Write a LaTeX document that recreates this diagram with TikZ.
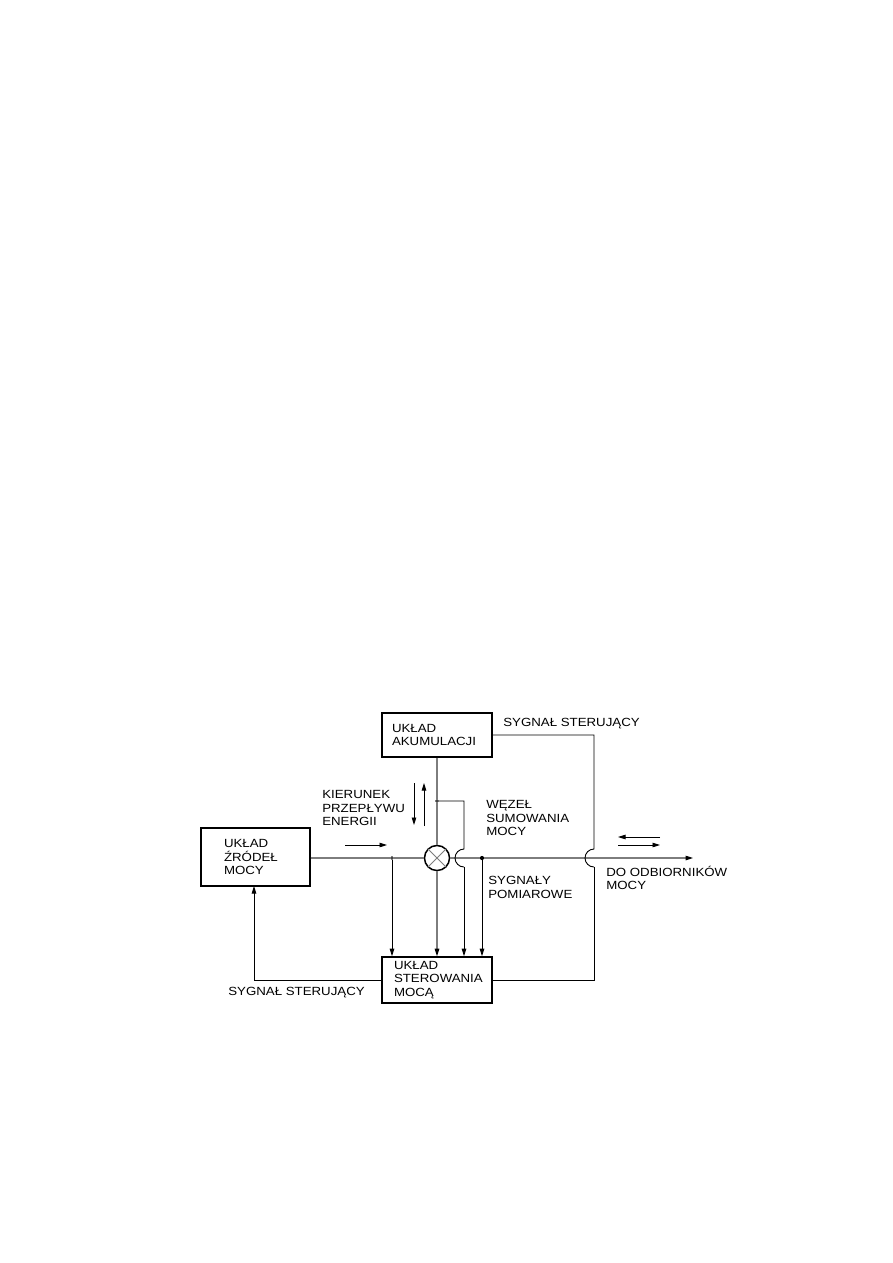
\documentclass[tikz,border=0pt]{standalone}
\usepackage{fontspec}
\setmainfont{Liberation Sans}[FakeStretch=1.12]
\usetikzlibrary{arrows.meta}

\begin{document}
\begin{tikzpicture}[x=.6667pt,y=-.6667pt,
  txt/.style={font=\fontsize{7.9}{8.9}\selectfont},
  box/.style={txt,draw,line width=1pt,align=left,inner ysep=0pt},
  lbl/.style={txt,inner sep=0pt,anchor=west,align=left},
  sig/.style={line width=0.6pt},
  pwr/.style={line width=0.75pt,draw={rgb,255:red,125;green,125;blue,125}},
  tip/.style={-{Triangle[length=5pt,width=3pt,color=black]}},
  junc/.style={circle,draw,line width=0.4pt,fill=white,inner sep=0pt,minimum size=1.8pt},
  dot/.style={circle,fill=black,inner sep=0pt,minimum size=2.8pt}]
\path[use as bounding box] (0,0) rectangle (893,1263);
\path[fill=white] (0,0) rectangle (893,1263);

% blocks
\node[box,minimum height=29.3pt,text width=60pt,inner xsep=6.67pt] (akum) at (437,735) {UKŁAD\\AKUMULACJI};
\node[box,minimum height=38.7pt,text width=42pt,inner xsep=15.3pt] (zrodla) at (255.5,857) {UKŁAD\\ŹRÓDEŁ\\MOCY};
\node[box,minimum height=30.7pt,text width=57.3pt,inner xsep=8pt] (ster) at (437,980) {UKŁAD\\STEROWANIA\\MOCĄ};
\node[circle,draw,line width=1pt,minimum size=16.7pt,inner sep=0pt] (sum) at (437,858) {};
\draw[pwr,line width=0.5pt] (sum.north west) -- (sum.south east) (sum.north east) -- (sum.south west);

% taps and bends
\node[junc] (tapA) at (437,801) {};
\node[junc] (tapZ) at (392,858) {};
\node[dot] (tapO) at (482,858) {};
\coordinate (hopA) at (464,849);
\coordinate (hopS) at (594,849);
\coordinate (odb) at (693,858);

% power lines
\draw[pwr] (akum.south) -- (tapA) -- (sum.north);
\draw[pwr] (zrodla.east |- sum) -- (tapZ) -- (sum.west);
\draw[pwr,tip] (sum.east) -- (tapO) -- (odb);
\draw[pwr,tip] (sum.south) -- (ster.north);

% measuring signals
\draw[sig] (tapA) -| (hopA) arc[start angle=-90,end angle=-270,radius=9] coordinate (hopA2);
\draw[sig,tip] (hopA2) -- (hopA2 |- ster.north);
\draw[sig,tip] (tapZ) -- (tapZ |- ster.north);
\draw[sig,tip] (tapO) -- (tapO |- ster.north);

% control signals
\draw[sig] (akum.east) -| (hopS) arc[start angle=-90,end angle=-270,radius=9] coordinate (hopS2);
\draw[sig] (hopS2) |- (ster.east);
\draw[sig,tip] (ster.west) -| (254,886);

% flow arrows
\draw[sig,tip] (345,845) -- (387,845);
\draw[sig,tip] (414,783) -- (414,825);
\draw[sig,tip] (424,826) -- (424,783);
\draw[sig,tip] (660,837) -- (618,837);
\draw[sig,tip] (618,845) -- (660,845);

% labels
\node[lbl] (lSterG) at (503,724) {SYGNAŁ STERUJĄCY};
\node[lbl] (lKier) at (322,808) {KIERUNEK\\PRZEPŁYWU\\ENERGII};
\node[lbl] (lWez) at (486,818) {WĘZEŁ\\SUMOWANIA\\MOCY};
\node[lbl] (lPom) at (488,887.5) {SYGNAŁY\\POMIAROWE};
\node[lbl] (lOdb) at (606,878) {DO ODBIORNIKÓW\\MOCY};
\node[lbl] (lSterD) at (228,992.5) {SYGNAŁ STERUJĄCY};
\end{tikzpicture}
\end{document}
